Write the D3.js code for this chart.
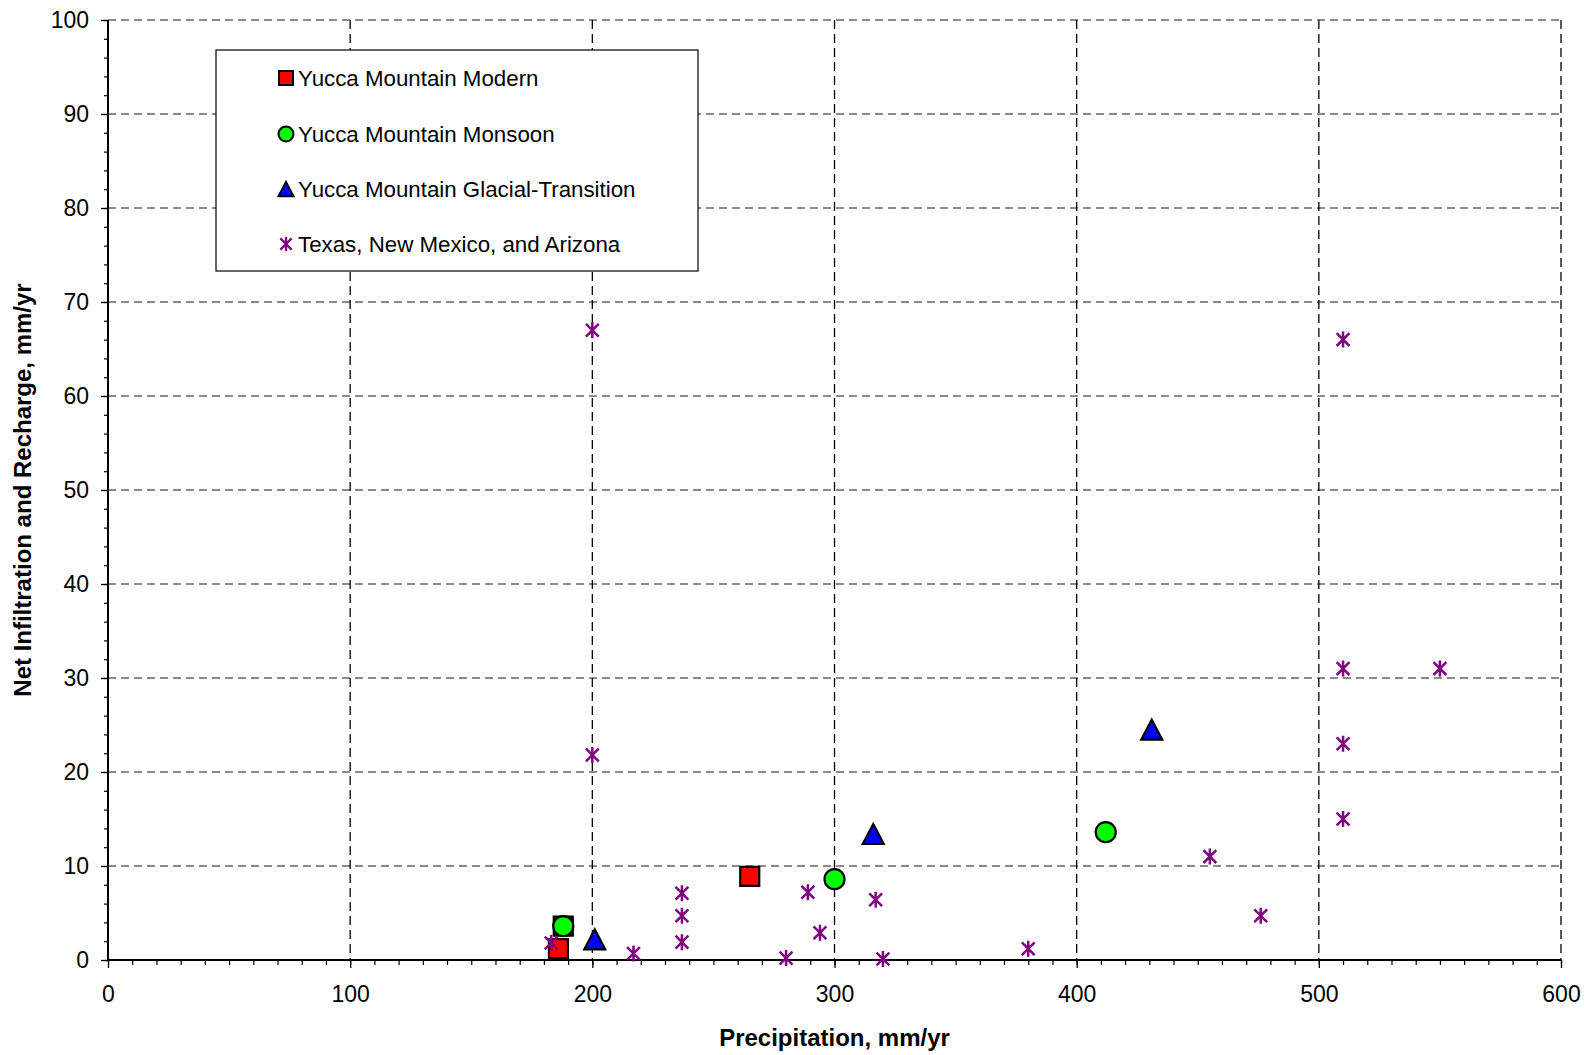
<!DOCTYPE html>
<html>
<head>
<meta charset="utf-8">
<script src="https://cdn.jsdelivr.net/npm/d3@7"></script>
<style>
  body { margin: 0; background: #fff; }
  text { font-family: "Liberation Sans", Arial, sans-serif; }
</style>
</head>
<body>
<div id="chart"></div>
<script>
// Data
const modernX = [186, 188, 265];
const modernY = [1.2, 3.6, 8.9];
const monsoonX = [188, 300, 412];
const monsoonY = [3.6, 8.6, 13.6];
const glacialX = [201, 316, 431];
const glacialY = [2.2, 13.4, 24.5];
const regionalX = [200, 200, 510, 510, 510, 510, 550, 455, 476, 380, 183, 217, 237, 237, 237, 280, 289, 294, 317, 320];
const regionalY = [67, 21.8, 66, 31, 23, 15, 31, 11, 4.7, 1.2, 1.8, 0.7, 7.1, 4.7, 1.9, 0.2, 7.2, 2.9, 6.4, 0.1];

const seriesNames = [
  "Yucca Mountain Modern",
  "Yucca Mountain Monsoon",
  "Yucca Mountain Glacial-Transition",
  "Texas, New Mexico, and Arizona",
];
const xTicks = [0, 100, 200, 300, 400, 500, 600];
const yTicks = [0, 10, 20, 30, 40, 50, 60, 70, 80, 90, 100];

const width = 1589, height = 1055;
const margin = { top: 20, right: 28, bottom: 95, left: 108 };
const innerW = width - margin.left - margin.right;
const innerH = height - margin.top - margin.bottom;

const svg = d3.select("#chart").append("svg")
  .attr("width", width)
  .attr("height", height);

svg.append("rect").attr("width", width).attr("height", height).attr("fill", "#fff");

const g = svg.append("g").attr("transform", `translate(${margin.left},${margin.top})`);

const x = d3.scaleLinear().domain([0, 600]).range([0, innerW]);
const y = d3.scaleLinear().domain([0, 100]).range([innerH, 0]);

// gridlines
g.selectAll(".hgrid")
  .data(yTicks.filter((d) => d > 0))
  .enter().append("line")
  .attr("x1", 0).attr("x2", innerW)
  .attr("y1", (d) => y(d)).attr("y2", (d) => y(d))
  .attr("stroke", "#666").attr("stroke-width", 1.3)
  .attr("stroke-dasharray", "8,5");

g.selectAll(".vgrid")
  .data(xTicks.filter((d) => d > 0))
  .enter().append("line")
  .attr("x1", (d) => x(d)).attr("x2", (d) => x(d))
  .attr("y1", 0).attr("y2", innerH)
  .attr("stroke", "#000").attr("stroke-width", 1.3)
  .attr("stroke-dasharray", "9,5");

// axes: minor ticks, then major ticks with labels
g.append("g")
  .attr("transform", `translate(0,${innerH})`)
  .call(d3.axisBottom(x).tickValues(d3.range(0, 601, 10)).tickSize(5).tickFormat(""))
  .call((a) => a.select(".domain").remove())
  .call((a) => a.selectAll("line").attr("stroke", "#000").attr("stroke-width", 1.2));

g.append("g")
  .attr("transform", `translate(0,${innerH})`)
  .call(d3.axisBottom(x).tickValues(xTicks).tickSize(8).tickPadding(18))
  .call((a) => a.select(".domain").remove())
  .call((a) => a.selectAll("line").attr("stroke", "#000").attr("stroke-width", 1.3))
  .call((a) => a.selectAll("text").attr("font-size", 23).attr("fill", "#000"));

g.append("g")
  .call(d3.axisLeft(y).tickValues(d3.range(0, 101, 2)).tickSize(4).tickFormat(""))
  .call((a) => a.select(".domain").remove())
  .call((a) => a.selectAll("line").attr("stroke", "#000").attr("stroke-width", 1.2));

g.append("g")
  .call(d3.axisLeft(y).tickValues(yTicks).tickSize(7).tickPadding(12))
  .call((a) => a.select(".domain").remove())
  .call((a) => a.selectAll("line").attr("stroke", "#000").attr("stroke-width", 1.3))
  .call((a) => a.selectAll("text").attr("font-size", 23).attr("fill", "#000"));

// solid axis lines
g.append("line").attr("x1", 0).attr("x2", innerW).attr("y1", innerH).attr("y2", innerH)
  .attr("stroke", "#000").attr("stroke-width", 2);
g.append("line").attr("x1", 0).attr("x2", 0).attr("y1", 0).attr("y2", innerH)
  .attr("stroke", "#000").attr("stroke-width", 2);

// marker shapes
function squarePath(s) {
  const h = s / 2;
  return `M${-h},${-h}H${h}V${h}H${-h}Z`;
}
function trianglePath(w) {
  const h = w * 0.95;
  return `M0,${-h / 2}L${w / 2},${h / 2}L${-w / 2},${h / 2}Z`;
}
function starPath(s) {
  const h = s / 2, d = h * 0.8;
  return `M0,${-h}V${h}M${-d},${-d}L${d},${d}M${d},${-d}L${-d},${d}`;
}

const zip = (xs, ys) => xs.map((v, i) => [v, ys[i]]);

// Modern squares
g.selectAll(".sq")
  .data(zip(modernX, modernY))
  .enter().append("path")
  .attr("transform", (d) => `translate(${x(d[0])},${y(d[1])})`)
  .attr("d", squarePath(19))
  .attr("fill", "#ff0000").attr("stroke", "#000").attr("stroke-width", 2.2);

// Monsoon circles
g.selectAll(".circ")
  .data(zip(monsoonX, monsoonY))
  .enter().append("circle")
  .attr("cx", (d) => x(d[0])).attr("cy", (d) => y(d[1]))
  .attr("r", 10)
  .attr("fill", "#00ff00").attr("stroke", "#000").attr("stroke-width", 2.2);

// Glacial-transition triangles
g.selectAll(".tri")
  .data(zip(glacialX, glacialY))
  .enter().append("path")
  .attr("transform", (d) => `translate(${x(d[0])},${y(d[1])})`)
  .attr("d", trianglePath(21))
  .attr("fill", "#0000ff").attr("stroke", "#000").attr("stroke-width", 2.2).attr("stroke-linejoin", "miter");

// Texas, New Mexico, Arizona stars
g.selectAll(".star")
  .data(zip(regionalX, regionalY))
  .enter().append("path")
  .attr("transform", (d) => `translate(${x(d[0])},${y(d[1])})`)
  .attr("d", starPath(16))
  .attr("fill", "none").attr("stroke", "#800080").attr("stroke-width", 2.5);

// Legend
const legend = svg.append("g").attr("transform", "translate(216,50)");
legend.append("rect")
  .attr("width", 482).attr("height", 221)
  .attr("fill", "#fff").attr("stroke", "#000").attr("stroke-width", 1.2);

const rowY = [28, 84, 139, 194];
const markers = [
  (sel) => sel.append("path").attr("d", squarePath(14)).attr("fill", "#ff0000").attr("stroke", "#000").attr("stroke-width", 2),
  (sel) => sel.append("circle").attr("r", 7.5).attr("fill", "#00ff00").attr("stroke", "#000").attr("stroke-width", 2),
  (sel) => sel.append("path").attr("d", trianglePath(15)).attr("fill", "#0000ff").attr("stroke", "#000").attr("stroke-width", 2),
  (sel) => sel.append("path").attr("d", starPath(14)).attr("fill", "none").attr("stroke", "#800080").attr("stroke-width", 2.3),
];
seriesNames.forEach((name, i) => {
  const row = legend.append("g").attr("transform", `translate(70,${rowY[i]})`);
  markers[i](row);
  row.append("text")
    .attr("x", 12).attr("y", 0).attr("dy", "0.36em")
    .attr("font-size", 22.3).attr("fill", "#000")
    .text(name);
});

// Axis titles
svg.append("text")
  .attr("x", margin.left + innerW / 2).attr("y", 1046)
  .attr("text-anchor", "middle")
  .attr("font-size", 24).attr("font-weight", "bold")
  .text("Precipitation, mm/yr");

svg.append("text")
  .attr("transform", `translate(31,${margin.top + innerH / 2}) rotate(-90)`)
  .attr("text-anchor", "middle")
  .attr("font-size", 24).attr("font-weight", "bold")
  .text("Net Infiltration and Recharge, mm/yr");
</script>
</body>
</html>
